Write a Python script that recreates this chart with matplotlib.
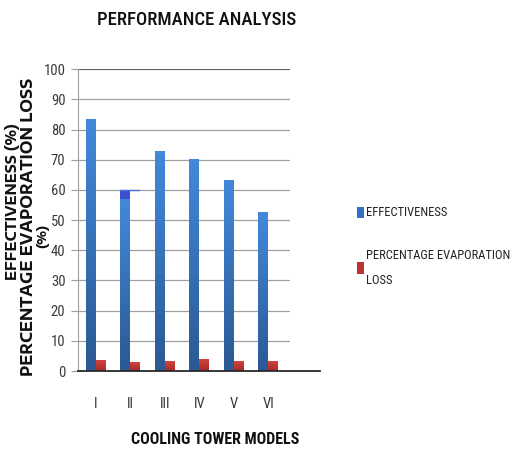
import numpy as np
import matplotlib.pyplot as plt
import matplotlib.colors as mcolors

# ==== DADOS ====
modelos = ['I', 'II', 'III', 'IV', 'V', 'VI']
efetividade = [83.4, 57.1, 72.6, 70.0, 63.3, 52.6]
evaporacao = [3.5, 2.8, 3.3, 3.8, 3.1, 3.1]
# mancha escura que aparece no topo da barra II
mancha_base = 57.1
mancha_topo = 60.1

narrow = ['Roboto Condensed', 'Archivo Narrow', 'DejaVu Sans']
largo = ['Encode Sans Expanded', 'DejaVu Sans']
plt.rcParams['font.family'] = narrow

fig = plt.figure(figsize=(5.13, 4.49), dpi=100)
ax = fig.add_axes([0.152, 0.1737, 0.413, 0.672])

x = np.arange(len(modelos))
larg = 0.29


def barra_gradiente(ax, x0, base, topo, largura, c_topo, c_base):
    # barra com gradiente vertical (clara em cima, escura em baixo)
    grad = np.linspace(0, 1, 64).reshape(64, 1, 1)
    c1 = np.array(mcolors.to_rgb(c_base))
    c2 = np.array(mcolors.to_rgb(c_topo))
    img = c1 + (c2 - c1) * grad
    ax.imshow(img, extent=[x0, x0 + largura, base, topo], origin='lower',
              aspect='auto', zorder=3, interpolation='bilinear')


for i in range(len(modelos)):
    barra_gradiente(ax, x[i] - larg, 0, efetividade[i], larg, '#4289da', '#2b5994')
    barra_gradiente(ax, x[i], 0, evaporacao[i], larg, '#d4443f', '#a32a27')

# artefato da figura original na barra II
ax.bar(x[1] - larg / 2, mancha_topo - mancha_base, bottom=mancha_base, width=larg,
       color='#3b4fcf', zorder=4)
ax.plot([x[1] - larg, x[1] + 0.25], [mancha_topo, mancha_topo], color='#4a6ee0',
        linewidth=1.0, zorder=4)

ax.set_xlim(-0.522, 5.623)
ax.set_ylim(0, 100)
ax.set_yticks(np.arange(0, 101, 10))
ax.set_xticks(x)
ax.set_xticklabels(modelos)

ax.grid(axis='y', color='#a0a0a0', linewidth=0.9, zorder=0)
ax.set_axisbelow(True)
for s in ['top', 'right', 'bottom']:
    ax.spines[s].set_visible(False)
ax.spines['left'].set_color('#a0a0a0')
ax.axhline(100, color='#4a4a4a', linewidth=1.1, zorder=1)
ax.axhline(0, xmin=0, xmax=1.142, color='#2a2a2a', linewidth=1.3,
           clip_on=False, zorder=5)

ax.tick_params(axis='y', labelsize=10.5, length=5, color='#a0a0a0', pad=4,
               labelcolor='#3a3a3a')
ax.tick_params(axis='x', labelsize=10.5, length=0, pad=19, labelcolor='#3a3a3a')

fig.text(0.384, 0.955, 'PERFORMANCE ANALYSIS', ha='center', va='center',
         fontsize=13.5, fontweight='medium', color='#111111')
fig.text(0.42, 0.022, 'COOLING TOWER MODELS', ha='center', va='center',
         fontsize=11.5, fontweight='bold', color='#111111')

# título do eixo y em três linhas, posicionadas como no original
fig.text(13 / 513, 1 - 202 / 449, 'EFFECTIVENESS (%)', ha='center', va='center',
         rotation=90, fontsize=10, fontweight='bold', color='#111111', family=largo)
fig.text(29 / 513, 1 - 227 / 449, 'PERCENTAGE EVAPORATION LOSS', ha='center',
         va='center', rotation=90, fontsize=11, fontweight='bold',
         color='#111111', family=largo)
fig.text(43 / 513, 1 - 236 / 449, '(%)', ha='center', va='center',
         rotation=90, fontsize=9, fontweight='bold', color='#111111', family=largo)

# legenda desenhada à mão para acompanhar o espaçamento do original
fig.patches.append(plt.Rectangle((357 / 513, 1 - 218 / 449), 7 / 513, 11 / 449,
                                 transform=fig.transFigure, facecolor='#3471c0',
                                 figure=fig))
fig.patches.append(plt.Rectangle((357 / 513, 1 - 274 / 449), 7 / 513, 12 / 449,
                                 transform=fig.transFigure, facecolor='#bb3431',
                                 figure=fig))
fig.text(366 / 513, 1 - 212 / 449, 'EFFECTIVENESS', va='center', ha='left',
         fontsize=9, color='#222222')
fig.text(366 / 513, 1 - 268 / 449, 'PERCENTAGE EVAPORATION\nLOSS', va='center',
         ha='left', fontsize=9, color='#222222', linespacing=2.2,
         transform=fig.transFigure)

fig.savefig('out.png', dpi=100)
